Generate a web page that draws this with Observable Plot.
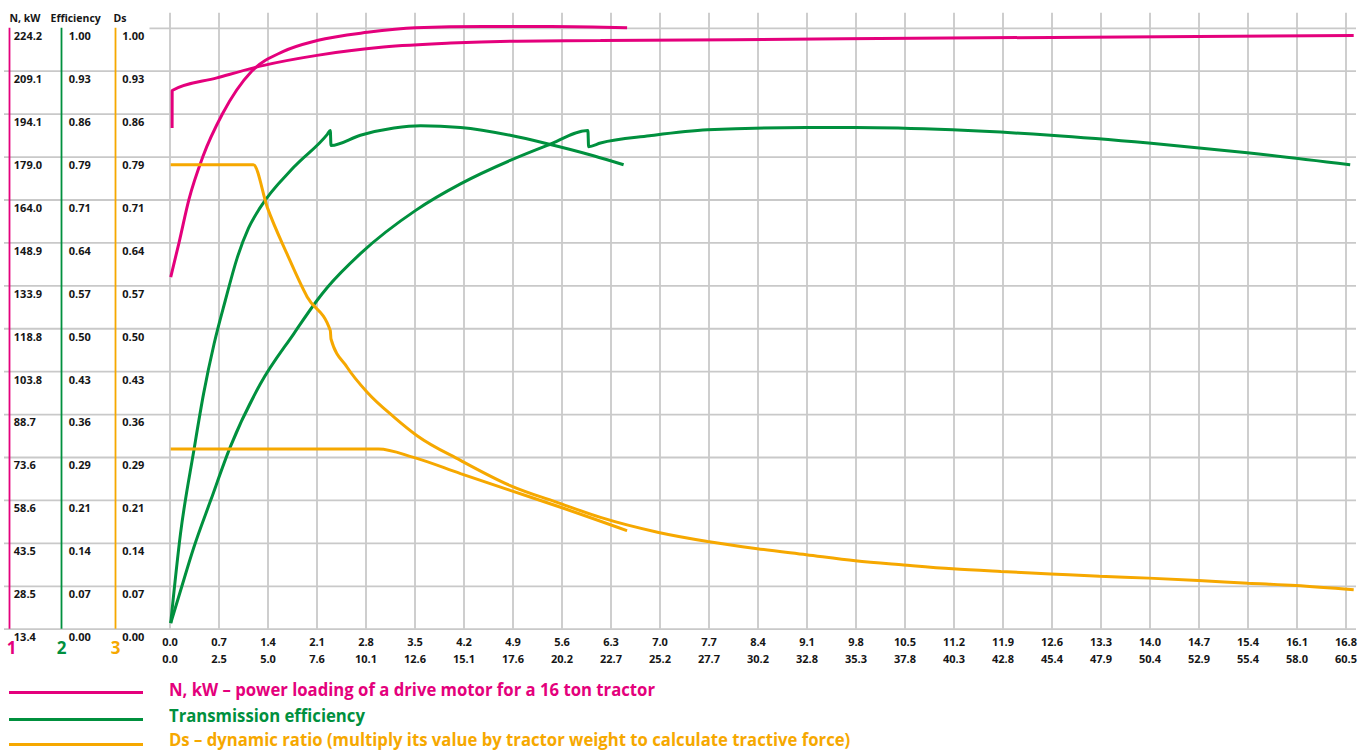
<!DOCTYPE html>
<html>
<head>
<meta charset="utf-8">
<script src="https://cdn.jsdelivr.net/npm/d3@7"></script>
<script src="https://cdn.jsdelivr.net/npm/@observablehq/plot@0.6"></script>
<style>
  html, body { margin: 0; padding: 0; background: #fff; }
  #wrap { position: relative; width: 1370px; height: 753px; overflow: hidden; font-family: "Open Sans", sans-serif; }
  #chart svg { display: block; }
  .leg-line { position: absolute; left: 9px; width: 134px; height: 3px; }
  .leg-text { position: absolute; left: 169px; font-weight: 700; font-size: 17px; line-height: 16px; white-space: nowrap; transform-origin: 0 50%; }
</style>
</head>
<body>
<div id="wrap">
  <div id="chart"></div>
  <div id="legend"></div>
</div>
<script>
// ---------- tick labels ----------
const nTicks   = ["13.4","28.5","43.5","58.6","73.6","88.7","103.8","118.8","133.9","148.9","164.0","179.0","194.1","209.1","224.2"];
const effTicks = ["0.00","0.07","0.14","0.21","0.29","0.36","0.43","0.50","0.57","0.64","0.71","0.79","0.86","0.93","1.00"];
const dsTicks  = ["0.00","0.07","0.14","0.21","0.29","0.36","0.43","0.50","0.57","0.64","0.71","0.79","0.86","0.93","1.00"];
const speedTop    = ["0.0","0.7","1.4","2.1","2.8","3.5","4.2","4.9","5.6","6.3","7.0","7.7","8.4","9.1","9.8","10.5","11.2","11.9","12.6","13.3","14.0","14.7","15.4","16.1","16.8"];
const speedBottom = ["0.0","2.5","5.0","7.6","10.1","12.6","15.1","17.6","20.2","22.7","25.2","27.7","30.2","32.8","35.3","37.8","40.3","42.8","45.4","47.9","50.4","52.9","55.4","58.0","60.5"];
const axisHeaders = ["N, kW", "Efficiency", "Ds"];
const axisNumbers = ["1", "2", "3"];

// ---------- series (x in units of the upper speed row) ----------
// N, kW
const powerRange1 = [[0.01,136.9],[0.13,149.1],[0.27,164.1],[0.47,179.2],[0.75,194.2],[1.17,209.2],[1.62,216.1],[2.10,219.9],[2.82,222.8],[3.51,224.4],[4.48,224.8],[5.44,224.8],[6.53,224.4]];
const powerRange2 = [[0.030,189.2],[0.031,202.4],[0.67,206.8],[1.34,211.2],[2.10,214.7],[3.05,217.6],[4.01,219.0],[4.96,219.7],[6.15,219.9],[9.63,220.5],[13.10,221.1],[16.91,221.7]];
// Transmission efficiency
const effRange1 = [[0.01,0.01],[0.15,0.159],[0.34,0.297],[0.48,0.392],[0.63,0.475],[0.79,0.547],[0.96,0.618],[1.12,0.667],[1.29,0.702],[1.77,0.769],[2.25,0.824],[2.29,0.830],[2.30,0.805],[2.72,0.822],[3.20,0.834],[3.58,0.838],[4.15,0.835],[4.86,0.822],[5.39,0.808],[6.05,0.788],[6.48,0.773]];
const effRange2 = [[0.01,0.01],[0.15,0.064],[0.34,0.136],[0.58,0.214],[0.86,0.303],[1.29,0.408],[1.77,0.492],[2.10,0.547],[2.25,0.569],[2.72,0.625],[3.51,0.697],[4.15,0.741],[4.86,0.780],[5.39,0.805],[5.97,0.830],[5.98,0.803],[6.15,0.809],[6.85,0.821],[7.68,0.831],[9.09,0.835],[9.79,0.835],[11.18,0.831],[12.58,0.822],[13.98,0.809],[15.39,0.793],[16.86,0.773]];
// Ds – dynamic ratio
const dsRange1 = [[0.01,0.300],[2.98,0.300],[3.48,0.286],[4.15,0.259],[4.86,0.231],[5.58,0.203],[6.53,0.164]];
const dsRange2 = [[0.01,0.773],[1.19,0.773],[1.39,0.702],[1.67,0.625],[1.96,0.553],[2.29,0.497],[2.30,0.483],[2.53,0.436],[2.82,0.394],[3.20,0.353],[3.53,0.322],[4.15,0.281],[4.86,0.239],[5.58,0.209],[6.15,0.186],[6.98,0.161],[7.68,0.146],[8.39,0.134],[9.09,0.124],[9.79,0.114],[10.48,0.107],[11.18,0.1005],[11.87,0.096],[12.58,0.092],[13.28,0.088],[13.98,0.085],[14.69,0.081],[15.40,0.0766],[16.08,0.0727],[16.91,0.0656]];

const legendItems = [
  {metric: "N",   label: "N, kW – power loading of a drive motor for a 16 ton tractor"},
  {metric: "eff", label: "Transmission efficiency"},
  {metric: "ds",  label: "Ds – dynamic ratio (multiply its value by tractor weight to calculate tractive force)"}
];

// ---------- styling ----------
const colorOf = {N: "#e4007c", eff: "#00903e", ds: "#f6a800"};
const gridColor = "#c9c9c9";
const textColor = "#161616";

// ---------- build table ----------
const nMin = +nTicks[0], nMax = +nTicks[nTicks.length - 1];
const rows = [];
function addSeries(arr, metric, range, f) {
  arr.forEach(([x, v]) => rows.push({metric, key: metric + range, x, v: f(v)}));
}
const ident = (v) => v;
const normN = (v) => (v - nMin) / (nMax - nMin);
addSeries(powerRange1, "N", 1, normN);
addSeries(powerRange2, "N", 2, normN);
addSeries(effRange1, "eff", 1, ident);
addSeries(effRange2, "eff", 2, ident);
addSeries(dsRange1, "ds", 1, ident);
addSeries(dsRange2, "ds", 2, ident);

const yPos = effTicks.map((_, i) => i / (effTicks.length - 1));
const xPos = speedTop.map(Number);
const yInner = yPos.slice(0, -1);
const yTop = yPos.slice(-1);

const labelStyle = {fontWeight: 700, fontSize: 11, fill: textColor, lineAnchor: "middle"};
const leftCols = [
  {ticks: nTicks,   line: -160.5, text: 9.3,   head: 5,   num: 7,   metric: "N"},
  {ticks: effTicks, line: -108.5, text: 64.3,  head: 46,  num: 57,  metric: "eff"},
  {ticks: dsTicks,  line: -54.5,  text: 117.7, head: 109, num: 111, metric: "ds"}
];

const marks = [
  Plot.ruleY(yInner, {stroke: gridColor, strokeWidth: 1.8}),
  Plot.ruleY(yTop, {x1: xPos[0], x2: xPos[xPos.length - 1], insetLeft: -20, insetRight: -10.5, stroke: gridColor, strokeWidth: 1.8}),
  Plot.ruleX(xPos, {y1: 0, y2: 1.025, stroke: gridColor, strokeWidth: 1.8})
];
leftCols.forEach((c, k) => {
  marks.push(Plot.ruleX([0], {y1: 0, y2: 1, stroke: colorOf[c.metric], strokeWidth: 1.8, dx: c.line}));
  marks.push(Plot.text(yPos, {y: (d) => d, text: (d, i) => c.ticks[i], frameAnchor: "left", textAnchor: "start", dx: c.text, dy: 8.3, ...labelStyle}));
  marks.push(Plot.text([axisHeaders[k]], {text: (d) => d, frameAnchor: "top-left", textAnchor: "start", dx: c.head, dy: -10, fontWeight: 700, fontSize: 10.5, fill: textColor, lineAnchor: "middle"}));
  marks.push(Plot.text([axisNumbers[k]], {text: (d) => d, frameAnchor: "bottom-left", textAnchor: "middle", dx: c.num, dy: 19.5, fontWeight: 700, fontSize: 17, fill: colorOf[c.metric], lineAnchor: "middle"}));
});
marks.push(
  Plot.text(speedTop, {x: (d) => +d, text: (d) => d, frameAnchor: "bottom", dy: 13.5, ...labelStyle}),
  Plot.text(speedBottom, {x: (d, i) => +speedTop[i], text: (d) => d, frameAnchor: "bottom", dy: 30.5, ...labelStyle}),
  Plot.line(rows, {x: "x", y: "v", z: "key", stroke: "metric", strokeWidth: 3, curve: "monotone-x", strokeLinejoin: "miter", strokeLinecap: "butt"})
);

const chart = Plot.plot({
  width: 1370,
  height: 668,
  marginLeft: 4,
  marginRight: 14,
  marginTop: 27.8,
  marginBottom: 39.3,
  x: {domain: [0, 16.8], range: [169.5, 1345.5], axis: null},
  y: {domain: [0, 1], range: [628.7, 27.8], axis: null},
  color: {domain: ["N", "eff", "ds"], range: [colorOf.N, colorOf.eff, colorOf.ds]},
  style: {fontFamily: "'Open Sans', sans-serif", background: "#fff", overflow: "visible"},
  marks
});
document.getElementById("chart").appendChild(chart);

// ---------- legend (below the SVG) ----------
const legend = document.getElementById("legend");
const legendLineTops = [692.7, 719.5, 744];
const legendTextTops = [681.5, 707.5, 732];
const texts = [];
legendItems.forEach((item, i) => {
  const ln = document.createElement("div");
  ln.className = "leg-line";
  ln.style.top = (legendLineTops[i] - 1.5) + "px";
  ln.style.background = colorOf[item.metric];
  legend.appendChild(ln);
  const t = document.createElement("div");
  t.className = "leg-text";
  t.textContent = item.label;
  t.style.color = colorOf[item.metric];
  t.style.top = legendTextTops[i] + "px";
  legend.appendChild(t);
  texts.push(t);
});
// condense the legend font to the narrow face of the original
const fit = 486 / texts[0].getBoundingClientRect().width;
texts.forEach((t) => t.style.transform = `scaleX(${fit})`);
</script>
</body>
</html>
